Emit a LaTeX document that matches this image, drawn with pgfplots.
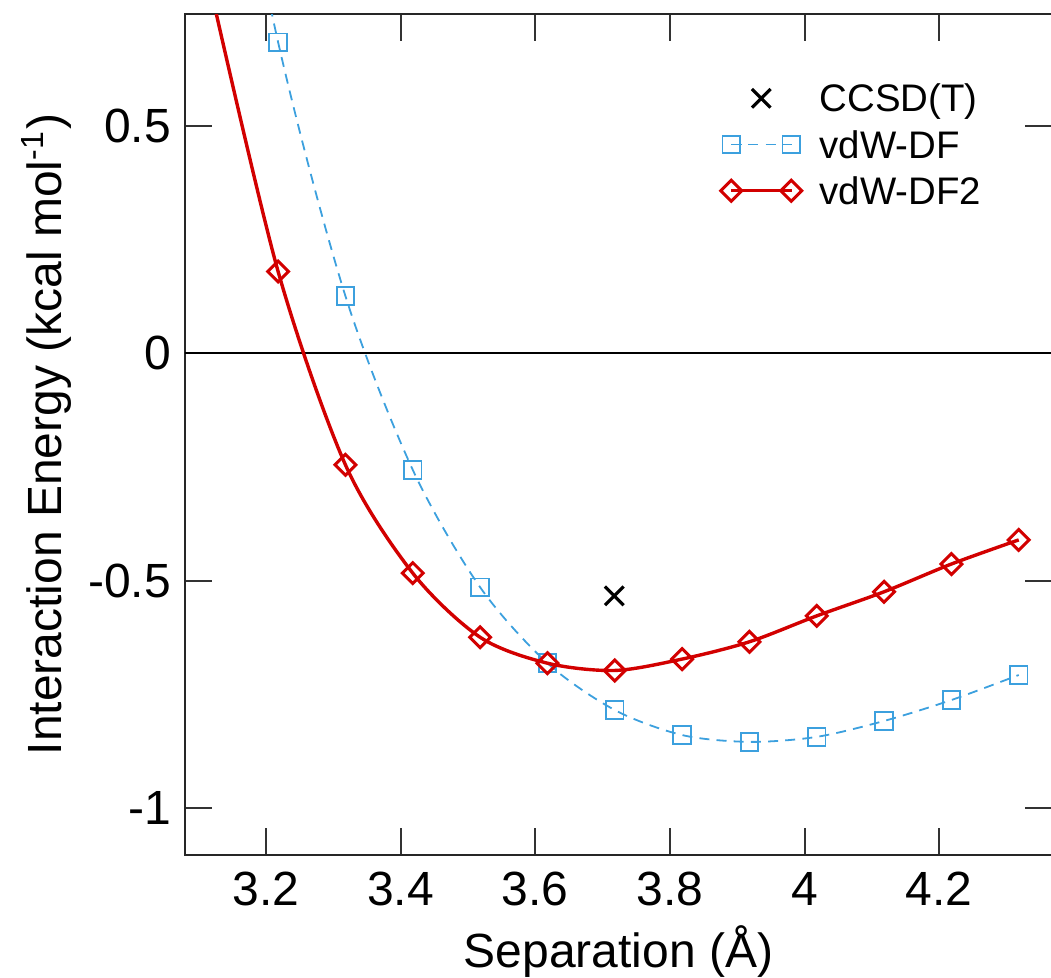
\documentclass[border=0pt]{standalone}
\usepackage{fontspec}
\setmainfont{Liberation Sans}
\usepackage{pgfplots}
\pgfplotsset{compat=1.18}

\definecolor{dfred}{RGB}{210,0,0}
\definecolor{dfblue}{RGB}{60,160,222}

\pgfplotsset{
  pointlegend/.style={legend image code/.code={\draw[##1] plot coordinates {(7.5pt,0pt)};}},
  twomarklegend/.style={legend image code/.code={\draw[##1, mark repeat=1, mark phase=1] plot coordinates {(0pt,0pt) (15pt,0pt)};}},
}

% vdW-DF2 (first point only extends the curve past the top edge)
\pgfplotstableread{
x      y
3.118  0.800
3.218  0.180
3.318 -0.245
3.418 -0.483
3.518 -0.624
3.618 -0.681
3.718 -0.697
3.818 -0.672
3.918 -0.634
4.018 -0.577
4.118 -0.524
4.218 -0.463
4.318 -0.410
}\dftwo

% vdW-DF
\pgfplotstableread{
x      y
3.118  1.430
3.218  0.684
3.318  0.126
3.418 -0.256
3.518 -0.514
3.618 -0.681
3.718 -0.784
3.818 -0.839
3.918 -0.854
4.018 -0.843
4.118 -0.808
4.218 -0.762
4.318 -0.707
}\dfone

\begin{document}
\begin{tikzpicture}
\useasboundingbox (-46.25pt,-30.5pt) rectangle (216.5pt,213.75pt);
\begin{axis}[
  at={(0pt,0pt)}, anchor=south west,
  scale only axis, width=216.75pt, height=210.25pt,
  xmin=3.0797, xmax=4.3674, ymin=-1.1027, ymax=0.7461,
  clip marker paths=true,
  xtick={3.2,3.4,3.6,3.8,4.0,4.2}, ytick={-1,-0.5,0,0.5},
  minor tick num=0, tick align=inside,
  major tick length=6.75pt,
  tick style={black!80, line width=0.5pt},
  axis line style={black!85, line width=0.6pt},
  /pgf/number format/assume math mode=true,
  tick label style={font=\fontsize{12}{14.4}\selectfont},
  xticklabel style={anchor=base, yshift=-12.5pt},
  label style={font=\fontsize{12}{14.4}\selectfont},
  xlabel={Separation (Å)},
  xlabel style={at={(axis description cs:0.5,-0.1332)}, anchor=base},
  ylabel={Interaction Energy (kcal mol\textsuperscript{-1})},
  ylabel style={at={(axis description cs:-0.143,0.5)}, anchor=base},
  legend style={draw=none, fill=none, at={(axis cs:3.8743,0.5993)}, anchor=north west,
    inner sep=0pt, font=\fontsize{9.6}{11.5}\selectfont, row sep=3.2pt, column sep=4.5pt,
    nodes={inner sep=0pt, text height=7.6pt, text depth=0.75pt}},
  legend cell align=left,
]
\addplot[black, line width=0.45pt, forget plot] coordinates {(3.0 ,0) (4.5,0)};

\addplot[only marks, black, mark=x, mark size=3.3pt, mark options={line width=0.8pt}, pointlegend]
  coordinates {(3.7173,-0.533)};
\addlegendentry{CCSD(T)}

\addplot[dfblue, line width=0.45pt, dash pattern=on 2.5pt off 1.8pt, smooth,
  mark=square, mark size=2.2pt,
  mark options={solid, line width=0.45pt}, twomarklegend]
  table {\dfone};
\addlegendentry{vdW-DF}

\addplot[dfred, line width=0.85pt, smooth,
  mark=square, mark size=1.85pt,
  mark options={solid, rotate=45, line width=0.75pt}, twomarklegend]
  table {\dftwo};
\addlegendentry{vdW-DF2}
\end{axis}
\end{tikzpicture}
\end{document}
